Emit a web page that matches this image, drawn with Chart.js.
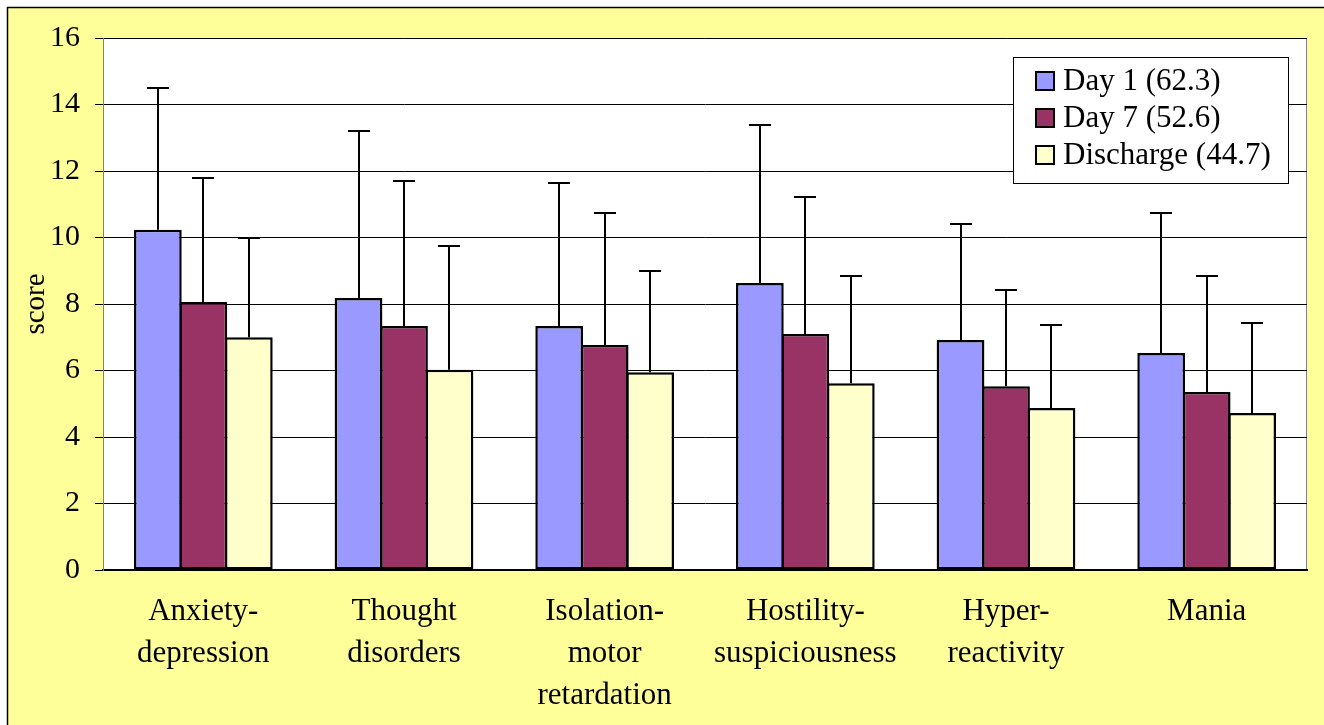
<!DOCTYPE html>
<html>
<head>
<meta charset="utf-8">
<script src="https://cdn.jsdelivr.net/npm/chart.js@4.4.1/dist/chart.umd.min.js"></script>
<style>
html,body{margin:0;padding:0;background:#fff;overflow:hidden;}
#wrap{position:absolute;left:0;top:0;width:1324px;height:725px;}
</style>
</head>
<body>
<div id="wrap"><canvas id="c" width="1324" height="725"></canvas></div>
<script>
const categories = [
  ["Anxiety-","depression"],
  ["Thought","disorders"],
  ["Isolation-","motor","retardation"],
  ["Hostility-","suspiciousness"],
  ["Hyper-","reactivity"],
  ["Mania"]
];
const seriesNames = ["Day 1 (62.3)", "Day 7 (52.6)", "Discharge (44.7)"];
const day1 = [10.23, 8.18, 7.34, 8.63, 6.92, 6.53];
const day7 = [8.06, 7.34, 6.77, 7.10, 5.53, 5.35];
const discharge = [7.00, 6.02, 5.95, 5.62, 4.87, 4.72];
const day1Upper = [14.50, 13.20, 11.64, 13.38, 10.40, 10.74];
const day7Upper = [11.79, 11.70, 10.74, 11.22, 8.42, 8.84];
const dischargeUpper = [9.98, 9.74, 8.99, 8.84, 7.37, 7.43];
const yTicks = [0, 2, 4, 6, 8, 10, 12, 14, 16];
const colors = ["#9999FF", "#993366", "#FFFFCC"];

const FONT = "'Liberation Serif', serif";

const bgPlugin = {
  id: 'bg',
  beforeDraw(chart) {
    const ctx = chart.ctx;
    ctx.save();
    ctx.fillStyle = '#ffffff';
    ctx.fillRect(0, 0, chart.width, chart.height);
    ctx.fillStyle = '#FFFF99';
    ctx.fillRect(7, 7, chart.width, chart.height);
    ctx.strokeStyle = '#000';
    ctx.lineWidth = 1.5;
    ctx.beginPath();
    ctx.moveTo(7.5, chart.height + 5);
    ctx.lineTo(7.5, 7.5);
    ctx.lineTo(chart.width + 5, 7.5);
    ctx.stroke();
    const a = chart.chartArea;
    ctx.fillStyle = '#ffffff';
    ctx.fillRect(a.left, a.top, a.right - a.left, a.bottom - a.top);
    ctx.strokeStyle = '#808080';
    ctx.lineWidth = 1;
    ctx.strokeRect(a.left + 0.5, a.top + 0.5, a.right - a.left - 1, a.bottom - a.top);
    ctx.restore();
  }
};

const errPlugin = {
  id: 'err',
  afterDatasetsDraw(chart) {
    const ctx = chart.ctx;
    const y = chart.scales.y;
    ctx.save();
    ctx.strokeStyle = '#000';
    ctx.lineWidth = 2;
    chart.data.datasets.forEach((ds, di) => {
      const meta = chart.getDatasetMeta(di);
      meta.data.forEach((bar, i) => {
        const top = Math.round(y.getPixelForValue(ds.upper[i]));
        const base = y.getPixelForValue(ds.data[i]);
        const x = Math.round(bar.x);
        ctx.beginPath();
        ctx.moveTo(x, base);
        ctx.lineTo(x, top);
        ctx.moveTo(x - 11, top);
        ctx.lineTo(x + 11, top);
        ctx.stroke();
      });
    });
    ctx.restore();
  },
  afterDraw(chart) {
    const ctx = chart.ctx;
    ctx.save();
    const bx = 1013, by = 57, bw = 275, bh = 126;
    ctx.fillStyle = '#fff';
    ctx.fillRect(bx, by, bw, bh);
    ctx.strokeStyle = '#000';
    ctx.lineWidth = 1;
    ctx.strokeRect(bx + 0.5, by + 0.5, bw, bh);
    ctx.font = '31px ' + FONT;
    ctx.textBaseline = 'middle';
    ctx.fillStyle = '#000';
    const rows = [81, 118, 155];
    chart.data.datasets.forEach((ds, i) => {
      const cy = rows[i];
      ctx.fillStyle = ds.backgroundColor;
      ctx.fillRect(1036, cy - 9, 18, 18);
      ctx.strokeStyle = '#000';
      ctx.lineWidth = 2;
      ctx.strokeRect(1036, cy - 9, 18, 18);
      ctx.fillStyle = '#000';
      ctx.fillText(ds.label, 1063, cy + 1);
    });
    ctx.restore();
  }
};

const mk = (i, data, upper) => ({
  label: seriesNames[i],
  data: data,
  upper: upper,
  backgroundColor: colors[i],
  borderColor: '#000',
  borderWidth: 2.5,
  borderSkipped: false,
  barPercentage: 1.05,
  categoryPercentage: 0.68
});

new Chart(document.getElementById('c'), {
  type: 'bar',
  data: {
    labels: categories,
    datasets: [mk(0, day1, day1Upper), mk(1, day7, day7Upper), mk(2, discharge, dischargeUpper)]
  },
  options: {
    responsive: false,
    animation: false,
    devicePixelRatio: 1,
    layout: { padding: { left: 10, top: 38, right: 17, bottom: 0 } },
    plugins: { legend: { display: false }, tooltip: { enabled: false } },
    scales: {
      x: {
        grid: { display: false, drawTicks: false },
        border: { display: true, color: '#000', width: 2 },
        ticks: {
          color: '#000',
          padding: 21,
          maxRotation: 0,
          autoSkip: false,
          font: { family: FONT, size: 31, lineHeight: 1.355 }
        },
        afterFit(s) { s.height = 725 - 570; }
      },
      y: {
        min: 0, max: 16,
        afterBuildTicks(s) { s.ticks = yTicks.map(v => ({ value: v })); },
        grid: { color: '#000', lineWidth: 1, tickLength: 8, drawTicks: true },
        border: { display: true, color: '#808080', width: 1 },
        ticks: {
          color: '#000',
          padding: 15,
          font: { family: FONT, size: 30 }
        },
        title: {
          display: true,
          text: 'score',
          color: '#000',
          padding: { top: 9, bottom: 0 },
          font: { family: FONT, size: 29 }
        },
        afterFit(s) { s.width = 103 - 10; }
      }
    }
  },
  plugins: [bgPlugin, errPlugin]
});
</script>
</body>
</html>
